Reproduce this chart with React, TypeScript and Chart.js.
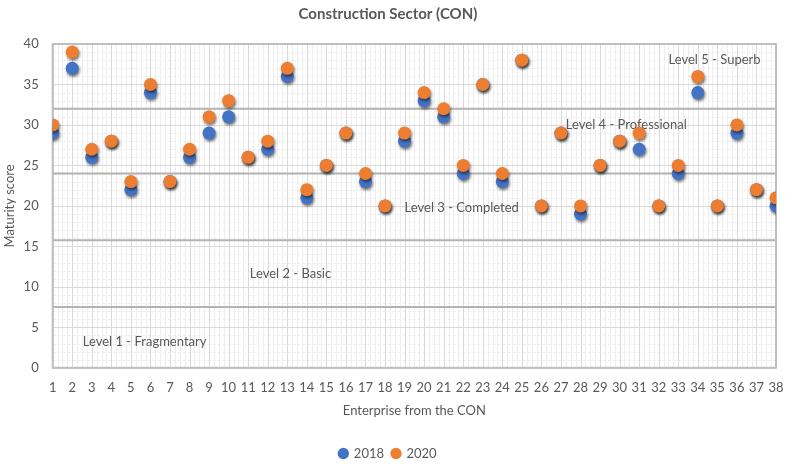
import React, { useEffect, useRef } from "react";
import { Chart, registerables } from "chart.js";

Chart.register(...registerables);

const enterprises = [
  1, 2, 3, 4, 5, 6, 7, 8, 9, 10, 11, 12, 13, 14, 15, 16, 17, 18, 19, 20, 21, 22, 23, 24, 25, 26, 27, 28, 29, 30, 31, 32, 33, 34, 35, 36, 37, 38,
];
const score2018 = [
  29, 37, 26, 28, 22, 34, 23, 26, 29, 31, 26, 27, 36, 21, 25, 29, 23, 20, 28, 33, 31, 24, 35, 23, 38, 20, 29, 19, 25, 28, 27, 20, 24, 34, 20, 29, 22, 20,
];
const score2020 = [
  30, 39, 27, 28, 23, 35, 23, 27, 31, 33, 26, 28, 37, 22, 25, 29, 24, 20, 29, 34, 32, 25, 35, 24, 38, 20, 29, 20, 25, 28, 29, 20, 25, 36, 20, 30, 22, 21,
];
const levelBoundaries = [7.5, 15.75, 24, 32];
const levelLabels = [
  "Level 1 - Fragmentary",
  "Level 2 - Basic",
  "Level 3 - Completed",
  "Level 4 - Professional",
  "Level 5 - Superb",
];
const levelLabelX = [2.54, 11.08, 19.0, 27.25, 32.5];
const levelLabelY = [3.25, 11.6, 19.75, 30, 38.1];

const FONT = "Lato, 'Open Sans', sans-serif";
const GRAY = "#595959";

const levelPlugin = {
  id: "levels",
  beforeDatasetsDraw(chart: any) {
    const { ctx, chartArea, scales } = chart;
    const xs = scales.x;
    const ys = scales.y;
    ctx.save();
    ctx.lineWidth = 1;
    ctx.strokeStyle = "#eeeeee";
    for (let v = xs.min; v <= xs.max + 1e-6; v += 0.25) {
      if (Math.abs(v - Math.round(v)) < 1e-6) continue;
      const px = Math.round(xs.getPixelForValue(v)) + 0.5;
      ctx.beginPath();
      ctx.moveTo(px, chartArea.top);
      ctx.lineTo(px, chartArea.bottom);
      ctx.stroke();
    }
    ctx.setLineDash([3, 2]);
    for (let v = ys.min; v <= ys.max + 1e-6; v += 1) {
      if (v % 5 === 0) continue;
      const py = Math.round(ys.getPixelForValue(v)) + 0.5;
      ctx.beginPath();
      ctx.moveTo(chartArea.left, py);
      ctx.lineTo(chartArea.right, py);
      ctx.stroke();
    }
    ctx.setLineDash([]);
    ctx.strokeStyle = "#d9d9d9";
    for (let v = xs.min; v <= xs.max; v += 1) {
      const px = Math.round(xs.getPixelForValue(v)) + 0.5;
      ctx.beginPath();
      ctx.moveTo(px, chartArea.top);
      ctx.lineTo(px, chartArea.bottom);
      ctx.stroke();
    }
    for (let v = ys.min; v <= ys.max; v += 5) {
      const py = Math.round(ys.getPixelForValue(v)) + 0.5;
      ctx.beginPath();
      ctx.moveTo(chartArea.left, py);
      ctx.lineTo(chartArea.right, py);
      ctx.stroke();
    }
    ctx.strokeStyle = "#b3b3b3";
    ctx.lineWidth = 2;
    levelBoundaries.forEach((b) => {
      const py = ys.getPixelForValue(b);
      ctx.beginPath();
      ctx.moveTo(chartArea.left, py);
      ctx.lineTo(chartArea.right, py);
      ctx.stroke();
    });
    ctx.strokeStyle = "#bfbfbf";
    ctx.lineWidth = 2;
    ctx.strokeRect(chartArea.left, chartArea.top, chartArea.right - chartArea.left, chartArea.bottom - chartArea.top);
    ctx.fillStyle = GRAY;
    ctx.font = `13px ${FONT}`;
    ctx.textAlign = "left";
    ctx.textBaseline = "middle";
    levelLabels.forEach((t, i) => {
      ctx.fillText(t, xs.getPixelForValue(levelLabelX[i]), ys.getPixelForValue(levelLabelY[i]));
    });
    ctx.restore();
  },
  beforeDatasetDraw(chart: any) {
    const ctx = chart.ctx;
    ctx.save();
    ctx.shadowColor = "rgba(0,0,0,0.55)";
    ctx.shadowBlur = 3;
    ctx.shadowOffsetX = 1;
    ctx.shadowOffsetY = 2;
  },
  afterDatasetDraw(chart: any) {
    chart.ctx.restore();
  },
};

export default function App() {
  const ref = useRef<HTMLCanvasElement>(null);
  useEffect(() => {
    if (!ref.current) return;
    const chart = new Chart(ref.current, {
      type: "scatter",
      data: {
        datasets: [
          {
            label: "2018",
            data: enterprises.map((e, i) => ({ x: e, y: score2018[i] })),
            backgroundColor: "#4472C4",
            borderColor: "#4472C4",
            pointRadius: 6.5,
            pointHoverRadius: 6.5,
            borderWidth: 0,
            order: 2,
          },
          {
            label: "2020",
            data: enterprises.map((e, i) => ({ x: e, y: score2020[i] })),
            backgroundColor: "#ED7D31",
            borderColor: "#ED7D31",
            pointRadius: 6.5,
            pointHoverRadius: 6.5,
            borderWidth: 0,
            order: 1,
          },
        ],
      },
      options: {
        animation: false,
        responsive: false,
        maintainAspectRatio: false,
        layout: { padding: { left: 0, right: 12, top: 4, bottom: -4 } },
        plugins: {
          tooltip: { enabled: false },
          title: {
            display: true,
            text: "Construction Sector (CON)",
            color: GRAY,
            font: { family: FONT, size: 15, weight: "bold" },
            padding: { top: 1, bottom: 21 },
          },
          legend: {
            position: "bottom",
            labels: {
              usePointStyle: true,
              pointStyle: "circle",
              boxWidth: 8,
              boxHeight: 8,
              color: GRAY,
              font: { family: FONT, size: 13 },
              padding: 8,
              sort: (a: any, b: any) => a.datasetIndex - b.datasetIndex,
            },
          },
        },
        scales: {
          x: {
            type: "linear",
            min: 1,
            max: 38,
            grid: { display: false },
            border: { display: false },
            ticks: {
              stepSize: 1,
              color: GRAY,
              font: { family: FONT, size: 13 },
              maxRotation: 0,
              autoSkip: false,
              padding: 4,
            },
            title: {
              display: true,
              text: "Enterprise from the CON",
              color: GRAY,
              font: { family: FONT, size: 13 },
              padding: { top: 4, bottom: 20 },
            },
          },
          y: {
            min: 0,
            max: 40,
            grid: { display: false },
            border: { display: false },
            ticks: {
              stepSize: 5,
              color: GRAY,
              font: { family: FONT, size: 13 },
              padding: 6,
            },
            title: {
              display: true,
              text: "Maturity score",
              color: GRAY,
              font: { family: FONT, size: 13 },
              padding: { top: 2, bottom: 0 },
            },
          },
        },
      },
      plugins: [levelPlugin],
    });
    return () => chart.destroy();
  }, []);
  return (
    <div style={{ position: "absolute", left: 0, top: 0, width: 788, height: 466, background: "#fff" }}>
      <canvas ref={ref} width={788} height={466} style={{ width: 788, height: 466 }} />
    </div>
  );
}
